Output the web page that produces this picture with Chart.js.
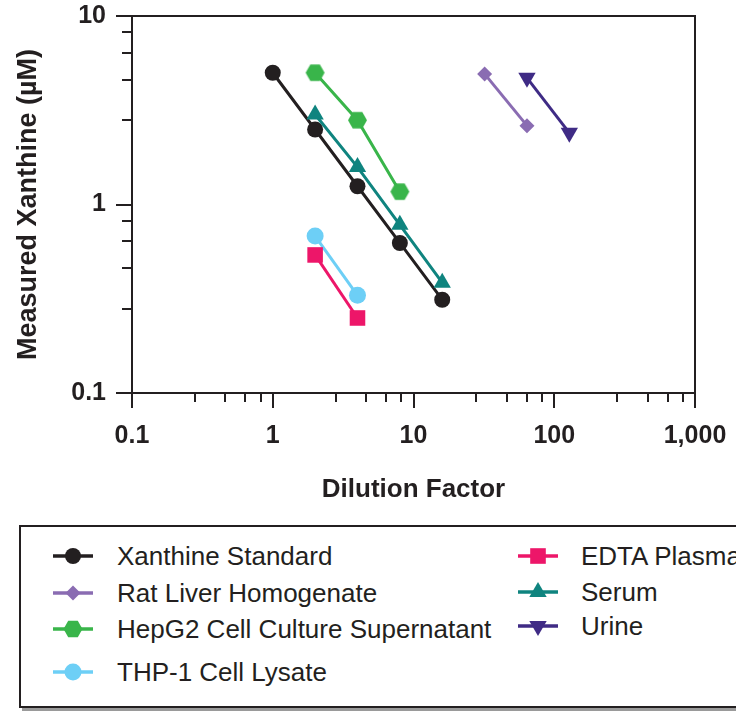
<!DOCTYPE html>
<html><head><meta charset="utf-8">
<script src="https://cdn.jsdelivr.net/npm/chart.js@4"></script>
<style>
html,body{margin:0;padding:0;background:#fff;}
#wrap{position:relative;width:736px;height:711px;overflow:hidden;background:#fff;font-family:"Liberation Sans",Arial,sans-serif;}
#c{position:absolute;left:0;top:0;}
#legend{position:absolute;left:19px;top:525px;width:800px;height:183px;box-sizing:border-box;border:2px solid #231f20;box-shadow:3px 3px 0 #9a9a9a;background:#fff;}
.item{position:absolute;height:30px;line-height:30px;font-size:26px;color:#231f20;white-space:nowrap;}
.item svg{position:absolute;left:0;top:0;}
.item span{position:absolute;top:0;}
</style></head>
<body><div id="wrap"><canvas id="c" width="736" height="520"></canvas><div id="legend"></div></div>
<script>
// ---- data ----
const seriesNames = ["Xanthine Standard","Rat Liver Homogenate","HepG2 Cell Culture Supernatant","THP-1 Cell Lysate","EDTA Plasma","Serum","Urine"];
const xanthineX = [1, 2, 4, 8, 16];
const xanthineY = [5, 2.5, 1.25, 0.625, 0.3125];
const ratLiverX = [32, 64];
const ratLiverY = [4.93, 2.62];
const hepg2X = [2, 4, 8];
const hepg2Y = [5.0, 2.8, 1.17];
const thp1X = [2, 4];
const thp1Y = [0.68, 0.33];
const edtaX = [2, 4];
const edtaY = [0.54, 0.25];
const serumX = [2, 4, 8, 16];
const serumY = [3.0, 1.58, 0.78, 0.385];
const urineX = [64, 128];
const urineY = [4.7, 2.4];
const xMajorTicks = [0.1, 1, 10, 100, 1000];
const xTickLabels = ["0.1", "1", "10", "100", "1,000"];
const xMinorTicks = [0.28, 0.46, 0.64, 0.82, 2.8, 4.6, 6.4, 8.2, 28, 46, 64, 82, 280, 460, 640, 820];
const yMajorTicks = [0.1, 1, 10];
const yTickLabels = ["0.1", "1", "10"];
const yMinorTicks = [0.28, 0.46, 0.64, 0.82, 2.8, 4.6, 6.4, 8.2];

const ink = "#231f20";
const colors = ["#231f20", "#8a6cb2", "#39b54a", "#6dcff6", "#ed1669", "#0f847f", "#3f2b85"];

function hexCanvas(color, a) {
  const h = Math.sqrt(3) * a;
  const cv = document.createElement("canvas");
  cv.width = Math.ceil(2 * a) + 2; cv.height = Math.ceil(h) + 2;
  const g = cv.getContext("2d");
  const cx = cv.width / 2, cy = cv.height / 2;
  g.beginPath();
  for (let k = 0; k < 6; k++) {
    const ang = Math.PI / 3 * k;
    const px = cx + a * Math.cos(ang), py = cy + a * Math.sin(ang);
    k ? g.lineTo(px, py) : g.moveTo(px, py);
  }
  g.closePath(); g.fillStyle = color; g.fill();
  return cv;
}
const hexStyle = hexCanvas(colors[2], 9.5);

function pts(xs, ys) { return xs.map((x, i) => ({ x: x, y: ys[i] })); }
function ds(i, xs, ys, style, radius, rot) {
  return {
    label: seriesNames[i], data: pts(xs, ys),
    borderColor: colors[i], backgroundColor: colors[i],
    pointBorderColor: colors[i], pointBackgroundColor: colors[i],
    borderWidth: 3, pointStyle: style, pointRadius: radius, pointHoverRadius: radius,
    pointBorderWidth: 0, pointRotation: rot || 0, showLine: true, fill: false, tension: 0
  };
}

const frame = {
  id: "frame",
  beforeDatasetsDraw(chart) {
    const ctx = chart.ctx, a = chart.chartArea, xs = chart.scales.x, ys = chart.scales.y;
    ctx.save();
    ctx.strokeStyle = ink; ctx.lineWidth = 2; ctx.lineCap = "butt";
    ctx.strokeRect(a.left, a.top, a.right - a.left, a.bottom - a.top);
    ctx.beginPath();
    xMajorTicks.forEach(v => { const p = Math.round(xs.getPixelForValue(v)); ctx.moveTo(p, a.bottom); ctx.lineTo(p, a.bottom + 15); });
    xMinorTicks.forEach(v => { const p = Math.round(xs.getPixelForValue(v)); ctx.moveTo(p, a.bottom); ctx.lineTo(p, a.bottom + 9); });
    yMajorTicks.forEach(v => { const p = Math.round(ys.getPixelForValue(v)); ctx.moveTo(a.left, p); ctx.lineTo(a.left - 16, p); });
    yMinorTicks.forEach(v => { const p = Math.round(ys.getPixelForValue(v)); ctx.moveTo(a.left, p); ctx.lineTo(a.left - 10, p); });
    ctx.stroke();
    ctx.restore();
  }
};

const tickFont = { family: "'Liberation Sans', Arial, sans-serif", size: 25, weight: "bold" };
const xTitleFont = { family: "'Liberation Sans', Arial, sans-serif", size: 26, weight: "bold" };
const yTitleFont = { family: "'Liberation Sans', Arial, sans-serif", size: 27, weight: "bold" };
new Chart(document.getElementById("c"), {
  type: "scatter",
  data: {
    datasets: [
      ds(0, xanthineX, xanthineY, "circle", 8),
      ds(1, ratLiverX, ratLiverY, "rectRot", 7.5),
      ds(2, hepg2X, hepg2Y, hexStyle, 9),
      ds(3, thp1X, thp1Y, "circle", 8.5),
      ds(4, edtaX, edtaY, "rect", 11),
      ds(5, serumX, serumY, "triangle", 10),
      ds(6, urineX, urineY, "triangle", 10, 180)
    ].reverse()
  },
  options: {
    responsive: false, animation: false,
    layout: { padding: { top: 16, right: 41, left: 0, bottom: 0 } },
    plugins: { legend: { display: false }, tooltip: { enabled: false } },
    scales: {
      x: {
        type: "logarithmic", min: 0.1, max: 1000,
        afterBuildTicks(s) { s.ticks = xMajorTicks.map(v => ({ value: v, major: true })); },
        afterFit(s) { s.height = 127; s.paddingLeft = 0; s.paddingRight = 0; },
        ticks: { autoSkip: false, maxRotation: 0, minRotation: 0, padding: 28, color: ink, font: tickFont,
          callback: (v) => { const i = xMajorTicks.indexOf(v); return i >= 0 ? xTickLabels[i] : ""; } },
        grid: { display: false, drawTicks: false },
        border: { display: false },
        title: { display: true, text: "Dilution Factor", color: ink, font: xTitleFont, padding: { top: 0, bottom: 15 } }
      },
      y: {
        type: "logarithmic", min: 0.1, max: 10,
        afterBuildTicks(s) { s.ticks = yMajorTicks.map(v => ({ value: v, major: true })); },
        afterFit(s) { s.width = 132; s.paddingTop = 0; s.paddingBottom = 0; },
        ticks: { autoSkip: false, padding: 26, color: ink, font: tickFont,
          callback: (v) => { const i = yMajorTicks.indexOf(v); return i >= 0 ? yTickLabels[i] : ""; } },
        grid: { display: false, drawTicks: false },
        border: { display: false },
        title: { display: true, text: "Measured Xanthine (µM)", color: ink, font: yTitleFont, padding: { top: 12, bottom: 0 } }
      }
    }
  },
  plugins: [frame]
});

// ---- legend (HTML) ----
const legendRows = [
  { i: 0, col: 0, y: 556 }, { i: 1, col: 0, y: 592.7 }, { i: 2, col: 0, y: 629.3 }, { i: 3, col: 0, y: 671.7 },
  { i: 4, col: 1, y: 556 }, { i: 5, col: 1, y: 591.7 }, { i: 6, col: 1, y: 626 }
];
const legendShapes = [
  c => `<circle cx="20" cy="15" r="8" fill="${c}"/>`,
  c => `<polygon points="20,7.5 27.5,15 20,22.5 12.5,15" fill="${c}"/>`,
  c => `<polygon points="29.5,15 24.75,6.8 15.25,6.8 10.5,15 15.25,23.2 24.75,23.2" fill="${c}"/>`,
  c => `<circle cx="20" cy="15" r="8.5" fill="${c}"/>`,
  c => `<rect x="12.2" y="7.2" width="15.6" height="15.6" fill="${c}"/>`,
  c => `<polygon points="20,5 28.7,20 11.3,20" fill="${c}"/>`,
  c => `<polygon points="20,25 28.7,10 11.3,10" fill="${c}"/>`
];
const leg = document.getElementById("legend");
const lx = 19 + 2; const ly = 525 + 2;
legendRows.forEach(r => {
  const d = document.createElement("div");
  d.className = "item";
  const mx = r.col ? 518 : 53, tx = r.col ? 581 : 117;
  d.style.left = (mx - lx) + "px";
  d.style.top = (r.y - 15 - ly) + "px";
  const col = colors[r.i];
  d.innerHTML = `<svg width="40" height="30" viewBox="0 0 40 30"><line x1="0" y1="15" x2="40" y2="15" stroke="${col}" stroke-width="3.5"/>${legendShapes[r.i](col)}</svg><span style="left:${tx - mx}px">${seriesNames[r.i]}</span>`;
  leg.appendChild(d);
});
</script></body></html>
